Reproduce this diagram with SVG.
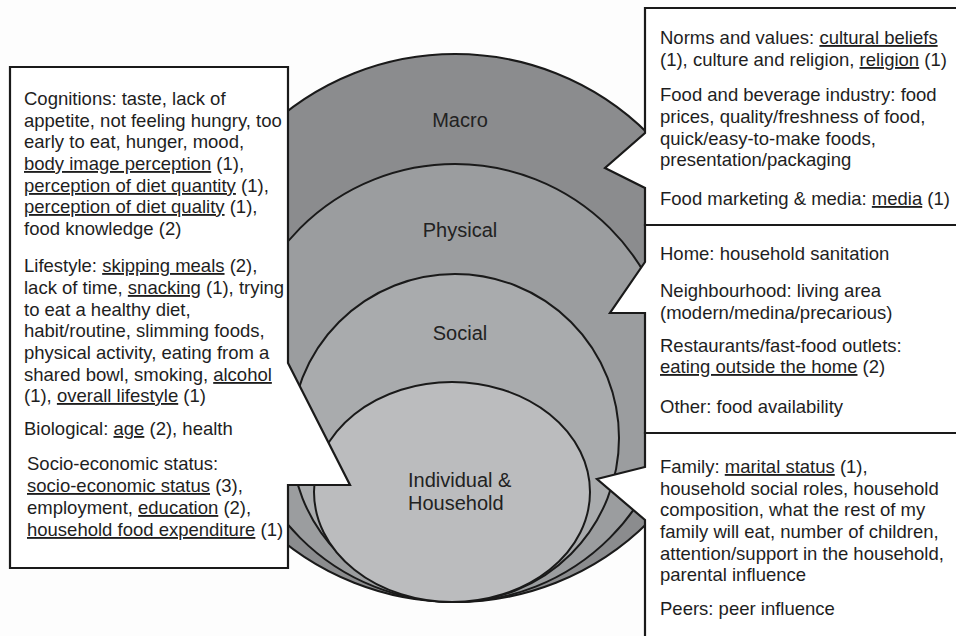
<svg xmlns="http://www.w3.org/2000/svg" width="956" height="636" viewBox="0 0 956 636">
<style>
.t{font-family:"Liberation Sans",Arial,Helvetica,sans-serif;font-size:18.5px;fill:#1e1e1e}
.l{font-family:"Liberation Sans",Arial,Helvetica,sans-serif;font-size:20px;fill:#222222}
.u{text-decoration:underline}
.ring{stroke:#1a1a1a;stroke-width:2}
.box{fill:#ffffff;stroke:#1a1a1a;stroke-width:2.2;stroke-linejoin:miter}
</style>
<rect x="0" y="0" width="956" height="636" fill="#fdfdfd"/>
<g id="layers">
<g id="macro"><circle class="ring" cx="455" cy="328" r="274" fill="#8b8c8e"/></g>
<g id="physical"><circle class="ring" cx="455" cy="383" r="219" fill="#9b9d9f"/></g>
<g id="social"><circle class="ring" cx="455" cy="438" r="164" fill="#a9abad"/></g>
<g id="individual"><ellipse class="ring" cx="452" cy="492" rx="138" ry="110" fill="#bbbcbe"/></g>
</g>
<g id="layer-labels">
<text class="l" x="460" y="127" text-anchor="middle">Macro</text>
<text class="l" x="460" y="237" text-anchor="middle">Physical</text>
<text class="l" x="460" y="340" text-anchor="middle">Social</text>
<text class="l" x="408" y="487">Individual &amp;</text>
<text class="l" x="408" y="510">Household</text>
</g>
<g id="connectors"></g>
<g id="box-individual-left">
<path class="box" d="M10,67 H288 V363 L350,485 H288 V568 H10 Z"/>
<text class="t" x="24" y="105">Cognitions: taste, lack of</text>
<text class="t" x="24" y="127">appetite, not feeling hungry, too</text>
<text class="t" x="24" y="148">early to eat, hunger, mood,</text>
<text class="t" x="24" y="170"><tspan class="u">body image perception</tspan> (1),</text>
<text class="t" x="24" y="192"><tspan class="u">perception of diet quantity</tspan> (1),</text>
<text class="t" x="24" y="213"><tspan class="u">perception of diet quality</tspan> (1),</text>
<text class="t" x="24" y="235">food knowledge (2)</text>
<text class="t" x="24" y="272">Lifestyle: <tspan class="u">skipping meals</tspan> (2),</text>
<text class="t" x="24" y="294">lack of time, <tspan class="u">snacking</tspan> (1), trying</text>
<text class="t" x="24" y="316">to eat a healthy diet,</text>
<text class="t" x="24" y="337">habit/routine, slimming foods,</text>
<text class="t" x="24" y="359">physical activity, eating from a</text>
<text class="t" x="24" y="381">shared bowl, smoking, <tspan class="u">alcohol</tspan></text>
<text class="t" x="24" y="402">(1), <tspan class="u">overall lifestyle</tspan> (1)</text>
<text class="t" x="24" y="435">Biological: <tspan class="u">age</tspan> (2), health</text>
<text class="t" x="27" y="470">Socio-economic status:</text>
<text class="t" x="27" y="492"><tspan class="u">socio-economic status</tspan> (3),</text>
<text class="t" x="27" y="514">employment, <tspan class="u">education</tspan> (2),</text>
<text class="t" x="27" y="536"><tspan class="u">household food expenditure</tspan> (1)</text>
</g>
<g id="box-macro-right">
<path class="box" d="M645,8 H962 V225 H645 V188 L605,168 L645,133 Z"/>
<text class="t" x="660" y="44">Norms and values: <tspan class="u">cultural beliefs</tspan></text>
<text class="t" x="660" y="66">(1), culture and religion, <tspan class="u">religion</tspan> (1)</text>
<text class="t" x="660" y="101">Food and beverage industry: food</text>
<text class="t" x="660" y="123">prices, quality/freshness of food,</text>
<text class="t" x="660" y="145">quick/easy-to-make foods,</text>
<text class="t" x="660" y="166">presentation/packaging</text>
<text class="t" x="660" y="205">Food marketing &amp; media: <tspan class="u">media</tspan> (1)</text>
</g>
<g id="box-physical-right">
<path class="box" d="M645,225 H962 V433 H645 V313 H610 L645,262 Z"/>
<text class="t" x="660" y="260">Home: household sanitation</text>
<text class="t" x="660" y="297">Neighbourhood: living area</text>
<text class="t" x="660" y="319">(modern/medina/precarious)</text>
<text class="t" x="660" y="352">Restaurants/fast-food outlets:</text>
<text class="t" x="660" y="373"><tspan class="u">eating outside the home</tspan> (2)</text>
<text class="t" x="660" y="413">Other: food availability</text>
</g>
<g id="box-social-right">
<path class="box" d="M645,433 H962 V642 H645 V520 L597,479 L645,467 Z"/>
<text class="t" x="660" y="473">Family: <tspan class="u">marital status</tspan> (1),</text>
<text class="t" x="660" y="495">household social roles, household</text>
<text class="t" x="660" y="516">composition, what the rest of my</text>
<text class="t" x="660" y="538">family will eat, number of children,</text>
<text class="t" x="660" y="560">attention/support in the household,</text>
<text class="t" x="660" y="581">parental influence</text>
<text class="t" x="660" y="615">Peers: peer influence</text>
</g>
</svg>
